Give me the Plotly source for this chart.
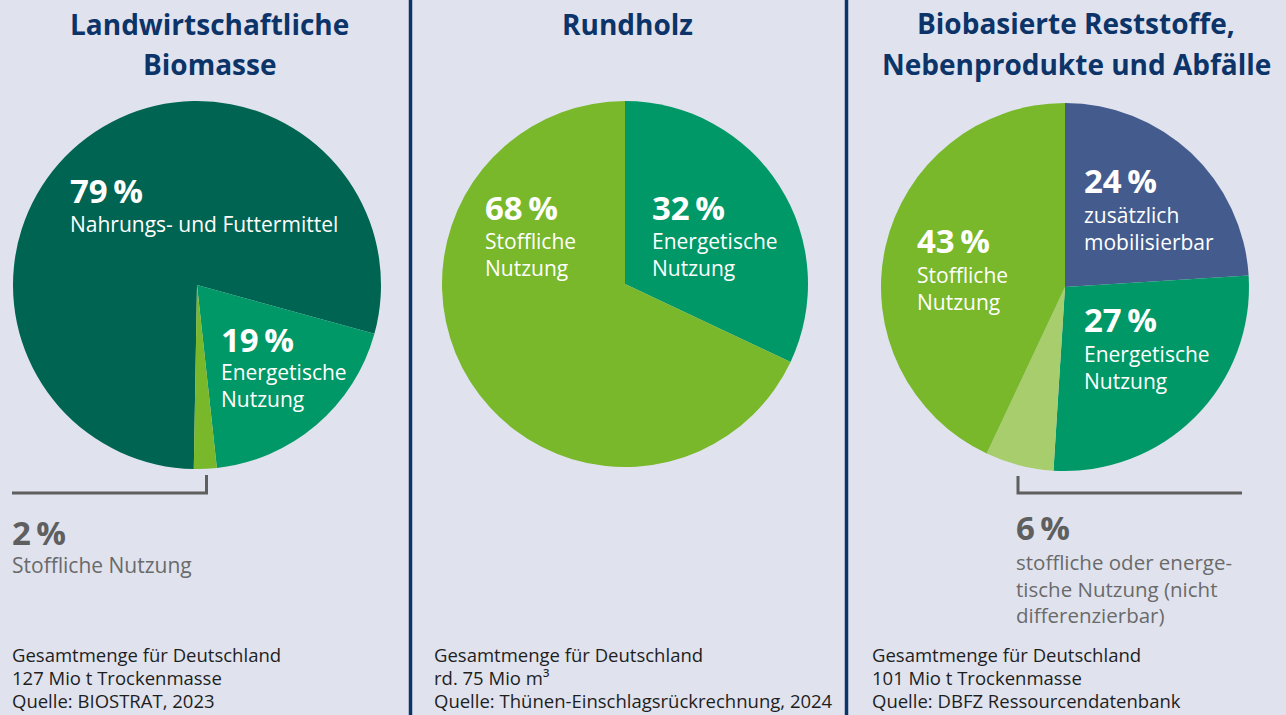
import plotly.graph_objects as go

W, H = 1286, 715

# ---------------- data ----------------
titles_1 = ["Landwirtschaftliche", "Biomasse"]
titles_2 = ["Rundholz"]
titles_3 = ["Biobasierte Reststoffe,", "Nebenprodukte und Abfälle"]

pie1_labels = ["Nahrungs- und Futtermittel", "Energetische Nutzung", "Stoffliche Nutzung"]
pie1_values = [79, 19, 2]

pie2_labels = ["Energetische Nutzung", "Stoffliche Nutzung"]
pie2_values = [32, 68]

pie3_labels = ["zusätzlich mobilisierbar", "Energetische Nutzung",
               "stoffliche oder energetische Nutzung (nicht differenzierbar)", "Stoffliche Nutzung"]
pie3_values = [24, 27, 6, 43]

footer_1 = ["Gesamtmenge für Deutschland", "127 Mio t Trockenmasse", "Quelle: BIOSTRAT, 2023"]
footer_2 = ["Gesamtmenge für Deutschland", "rd. 75 Mio m³", "Quelle: Thünen-Einschlagsrückrechnung, 2024"]
footer_3 = ["Gesamtmenge für Deutschland", "101 Mio t Trockenmasse", "Quelle: DBFZ Ressourcendatenbank"]

# ---------------- styles ----------------
BG = "#e0e3ee"
NAVY = "#0c3469"
DARK_GREEN = "#006452"
MID_GREEN = "#009866"
LIGHT_GREEN = "#78b82a"
PALE_GREEN = "#a8cd6d"
BLUE = "#445b8d"
GRAY = "#5f5f5f"
TEXT = "#1e1e1e"
FONT = "Open Sans"

pie1_colors = [DARK_GREEN, MID_GREEN, LIGHT_GREEN]
pie2_colors = [MID_GREEN, LIGHT_GREEN]
pie3_colors = [BLUE, MID_GREEN, PALE_GREEN, LIGHT_GREEN]


def px(x):
    return x / W


def py(y):
    return 1 - y / H


def pct(v):
    return f"{v}\u2009%"


fig = go.Figure()


def add_pie(labels, values, colors, cx, cy, r, rotation):
    fig.add_trace(go.Pie(
        labels=labels, values=values, sort=False, direction="clockwise",
        rotation=rotation,
        marker=dict(colors=colors, line=dict(width=0)),
        textinfo="none", hoverinfo="label+percent", showlegend=False,
        domain=dict(x=[px(cx - r), px(cx + r)], y=[py(cy + r), py(cy - r)]),
    ))


add_pie(pie1_labels, pie1_values, pie1_colors, 197, 285, 184, 181)
add_pie(pie2_labels, pie2_values, pie2_colors, 625, 284, 183, 0)
add_pie(pie3_labels, pie3_values, pie3_colors, 1065, 287, 184, 0)

annotations = []


def text(lines, x, baseline, size, bold=False, color="white", anchor="left"):
    """lines: str or list of str; baseline = pixel y of first line's baseline"""
    if isinstance(lines, str):
        lines = [lines]
    if bold:
        lines = [f"<b>{t}</b>" for t in lines]
    n = len(lines)
    center = baseline + size * (0.65 * (n - 1) - 0.388)
    annotations.append(dict(
        text="<br>".join(lines), x=px(x), y=py(center), xref="paper", yref="paper",
        xanchor=anchor, yanchor="middle", align=anchor if anchor != "center" else "center",
        showarrow=False, borderpad=0,
        font=dict(family=FONT, size=size, color=color),
    ))


# titles
TS = 28
text(titles_1[0], 209, 35, TS, True, NAVY, "center")
text(titles_1[1], 209, 75, TS, True, NAVY, "center")
text(titles_2[0], 627, 35, TS, True, NAVY, "center")
text(titles_3[0], 1076, 34, TS, True, NAVY, "center")
text(titles_3[1], 1076, 75, TS, True, NAVY, "center")

PS = 33
LS = 21
# pie 1 labels
text(pct(pie1_values[0]), 69, 203, PS, True)
text("Nahrungs- und Futtermittel", 69, 232, LS)
text(pct(pie1_values[1]), 220, 352, PS, True)
text(["Energetische", "Nutzung"], 220, 380, LS)

# pie 2 labels
text(pct(pie2_values[1]), 484, 220, PS, True)
text(["Stoffliche", "Nutzung"], 484, 249, LS)
text(pct(pie2_values[0]), 651, 220, PS, True)
text(["Energetische", "Nutzung"], 651, 249, LS)

# pie 3 labels
text(pct(pie3_values[0]), 1083, 193, PS, True)
text(["zusätzlich", "mobilisierbar"], 1083, 223, LS)
text(pct(pie3_values[3]), 916, 253, PS, True)
text(["Stoffliche", "Nutzung"], 916, 283, LS)
text(pct(pie3_values[1]), 1083, 332, PS, True)
text(["Energetische", "Nutzung"], 1083, 362, LS)

# outside small slices
text(pct(pie1_values[2]), 11, 545, PS, True, GRAY)
text("Stoffliche Nutzung", 11, 573, LS, False, "#6a6a6a")
text(pct(pie3_values[2]), 1015, 540, PS, True, GRAY)
text(["stoffliche oder energe-", "tische Nutzung (nicht", "differenzierbar)"],
     1015, 570, 20.5, False, "#6a6a6a")

# footers
FS = 18.5
for lines, x in [(footer_1, 11), (footer_2, 433), (footer_3, 871)]:
    for i, ln in enumerate(lines):
        text(ln, x, 662 + 23 * i, FS, False, TEXT)

shapes = []
for x in [410.5, 846.5]:
    shapes.append(dict(type="line", xref="paper", yref="paper",
                       x0=px(x), x1=px(x), y0=0, y1=1,
                       line=dict(color=NAVY, width=3.5)))

# brackets
shapes.append(dict(type="path", xref="paper", yref="paper",
                   path=f"M {px(12)} {py(493)} L {px(206.5)} {py(493)} L {px(206.5)} {py(475)}",
                   line=dict(color=GRAY, width=3)))
shapes.append(dict(type="path", xref="paper", yref="paper",
                   path=f"M {px(1018)} {py(476)} L {px(1018)} {py(493)} L {px(1242)} {py(493)}",
                   line=dict(color=GRAY, width=3)))

fig.update_layout(
    width=W, height=H,
    margin=dict(l=0, r=0, t=0, b=0),
    paper_bgcolor=BG, plot_bgcolor=BG,
    annotations=annotations, shapes=shapes,
    font=dict(family=FONT),
)

fig.write_html("out.html", config={"displayModeBar": False},
               post_script="document.body.style.margin='0';document.body.style.overflow='hidden';")
